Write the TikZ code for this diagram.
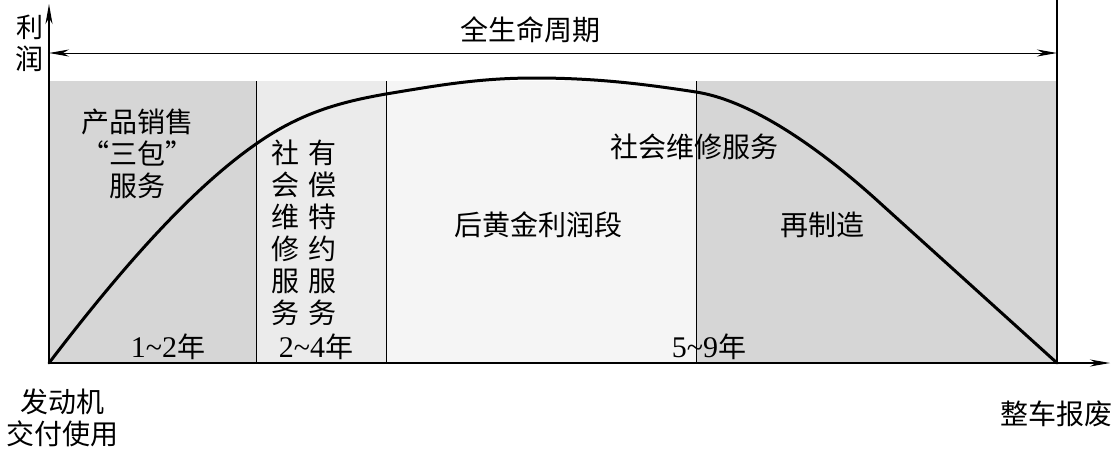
\documentclass[tikz,border=0pt]{standalone}
\usepackage{fontspec}
\setmainfont{Liberation Serif}
\newfontfamily\cjk{Noto Sans CJK SC}
\usetikzlibrary{arrows.meta}
\newcommand{\yr}[1]{{\fontspec{Liberation Serif}\fontsize{30}{32}\selectfont #1}}
\begin{document}
\begin{tikzpicture}[x=1pt,y=-1pt,
  lbl/.style={inner sep=0pt,font=\cjk\fontsize{28}{32}\selectfont,align=center},
  tip/.style={-{Stealth[length=20pt,width=7pt,inset=6pt]}},
  divider/.style={line width=0.8pt},
  axis/.style={line width=1.6pt}]
\useasboundingbox (0,0) rectangle (1118,453);
% shaded bands
\fill[black!16] (49,81) rectangle (256,363);
\fill[black!8] (256,81) rectangle (386,363);
\fill[black!4] (386,81) rectangle (696,363);
\fill[black!16] (696,81) rectangle (1057,363);
\coordinate (o) at (49,363);
\coordinate (ytop) at (49,4);
\coordinate (xend) at (1110,363);
\coordinate (L) at (49,53);
\coordinate (R) at (1057,53);
\coordinate (rtop) at (1057,0);
\coordinate (rbot) at (1057,363);
\foreach \x/\n in {256/a,386/b,696/c}{
  \coordinate (\n t) at (\x,81);
  \coordinate (\n b) at (\x,363);
  \draw[divider] (\n t) -- (\n b);
}
\draw[axis] (rtop) -- (rbot);
\draw[axis,tip] (o) -- (ytop);
\draw[line width=1.3pt,tip] (o) -- (xend);
\draw[line width=1pt,{Stealth[length=20pt,width=7pt,inset=6pt]}-{Stealth[length=20pt,width=7pt,inset=6pt]}] (L) -- (R);
% profit curve
\draw[line width=3pt,line cap=round,line join=round]
  (o) .. controls (120,270) and (190,190) .. (256,144)
      .. controls (300,113) and (340,102) .. (386,94)
      .. controls (440,85) and (480,78) .. (535,78)
      .. controls (600,78) and (650,85) .. (696,92)
      .. controls (760,102) and (835,162) .. (880,203)
      -- (rbot);
% labels
\node[lbl] (ttl) at (530,30) {全生命周期};
\node[lbl] (yl) at (30,43) {\fontsize{27}{30}\selectfont 利\\润};
\node[lbl,text depth=0pt] (s1) at (137,153) {\fontsize{28}{35}\selectfont 产品销售\\“三包”\\服务};
\node[lbl] (c1) at (285,233) {社\\会\\维\\修\\服\\务};
\node[lbl] (c2) at (322,233) {有\\偿\\特\\约\\服\\务};
\node[lbl] (y1) at (168,347) {\yr{1\textasciitilde 2}年};
\node[lbl] (y2) at (316,347) {\yr{2\textasciitilde 4}年};
\node[lbl] (y3) at (709,347) {\yr{5\textasciitilde 9}年};
\node[lbl] (hj) at (538,225) {后黄金利润段};
\node[lbl] (sh) at (694,147) {社会维修服务};
\node[lbl] (zz) at (822,225) {再制造};
\node[lbl] (st) at (62,418) {\fontsize{28}{37}\selectfont 发动机\\交付使用};
\node[lbl] (en) at (1056,414) {整车报废};
\end{tikzpicture}
\end{document}
